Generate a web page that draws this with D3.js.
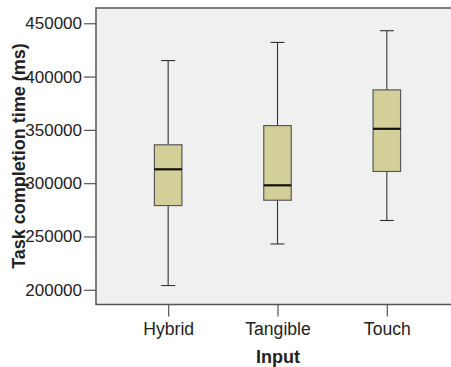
<!DOCTYPE html>
<html>
<head>
<meta charset="utf-8">
<script src="https://cdn.jsdelivr.net/npm/d3@7"></script>
<style>
  html, body { margin: 0; padding: 0; background: #fff; }
  svg { display: block; font-family: Arial, "Liberation Sans", sans-serif; }
</style>
</head>
<body>
<svg id="chart" width="451" height="367"></svg>
<script>
// Task completion time (ms) by input method — box summaries
const categories = ["Hybrid", "Tangible", "Touch"];
const whiskerLow  = [204000, 243000, 265000];
const quartile1   = [279000, 284000, 311000];
const medians     = [313000, 298000, 351000];
const quartile3   = [336000, 354000, 387500];
const whiskerHigh = [415000, 432000, 443000];
const yTicks = [200000, 250000, 300000, 350000, 400000, 450000];

const svg = d3.select("#chart");
const plot = { left: 96, right: 459, top: 8, bottom: 304.5 };

const x = d3.scalePoint()
  .domain(categories)
  .range([plot.left, plot.right])
  .padding(0.66);

const y = d3.scaleLinear()
  .domain([186200, 464300])
  .range([plot.bottom, plot.top]);

// plot background
svg.append("rect")
  .attr("x", plot.left).attr("y", plot.top)
  .attr("width", plot.right - plot.left)
  .attr("height", plot.bottom - plot.top)
  .attr("fill", "#f0f0f0")
  .attr("stroke", "#555")
  .attr("stroke-width", 1.5);

// y axis
const yAxis = svg.append("g")
  .attr("transform", `translate(${plot.left},0)`)
  .call(d3.axisLeft(y).tickValues(yTicks).tickFormat(d3.format("d")).tickSize(12).tickPadding(2));
yAxis.select(".domain").remove();
yAxis.selectAll(".tick line").attr("stroke", "#555").attr("stroke-width", 1.2);
yAxis.selectAll(".tick text").attr("font-size", 17).attr("fill", "#222")
  .attr("font-family", "Arial, 'Liberation Sans', sans-serif");

// x axis
const xAxis = svg.append("g")
  .attr("transform", `translate(0,${plot.bottom})`)
  .call(d3.axisBottom(x).tickSize(12).tickPadding(6));
xAxis.select(".domain").remove();
xAxis.selectAll(".tick line").attr("stroke", "#555").attr("stroke-width", 1.2);
xAxis.selectAll(".tick text").attr("font-size", 17.6).attr("fill", "#222")
  .attr("font-family", "Arial, 'Liberation Sans', sans-serif");

// boxes
const boxW = 27.5, capW = 14;
const rows = categories.map((c, i) => ({
  c, lo: whiskerLow[i], q1: quartile1[i], med: medians[i], q3: quartile3[i], hi: whiskerHigh[i]
}));

const g = svg.append("g");
rows.forEach(d => {
  const cx = x(d.c);
  // whiskers
  g.append("line").attr("x1", cx).attr("x2", cx).attr("y1", y(d.hi)).attr("y2", y(d.q3))
    .attr("stroke", "#333").attr("stroke-width", 1.1);
  g.append("line").attr("x1", cx).attr("x2", cx).attr("y1", y(d.q1)).attr("y2", y(d.lo))
    .attr("stroke", "#333").attr("stroke-width", 1.1);
  // caps
  [d.hi, d.lo].forEach(v => {
    g.append("line").attr("x1", cx - capW / 2).attr("x2", cx + capW / 2)
      .attr("y1", y(v)).attr("y2", y(v))
      .attr("stroke", "#333").attr("stroke-width", 1.1);
  });
  // box
  g.append("rect")
    .attr("x", cx - boxW / 2).attr("width", boxW)
    .attr("y", y(d.q3)).attr("height", y(d.q1) - y(d.q3))
    .attr("fill", "#d3cf98").attr("stroke", "#5a5a5a").attr("stroke-width", 1.2);
  // median
  g.append("line").attr("x1", cx - boxW / 2).attr("x2", cx + boxW / 2)
    .attr("y1", y(d.med)).attr("y2", y(d.med))
    .attr("stroke", "#111").attr("stroke-width", 2.2);
});

// axis titles
svg.append("text")
  .attr("x", 278).attr("y", 363)
  .attr("text-anchor", "middle")
  .attr("font-size", 18).attr("font-weight", "bold").attr("fill", "#222")
  .text("Input");

svg.append("text")
  .attr("transform", "translate(25,156) rotate(-90)")
  .attr("text-anchor", "middle")
  .attr("font-size", 18).attr("font-weight", "bold").attr("fill", "#222")
  .text("Task completion time (ms)");
</script>
</body>
</html>
